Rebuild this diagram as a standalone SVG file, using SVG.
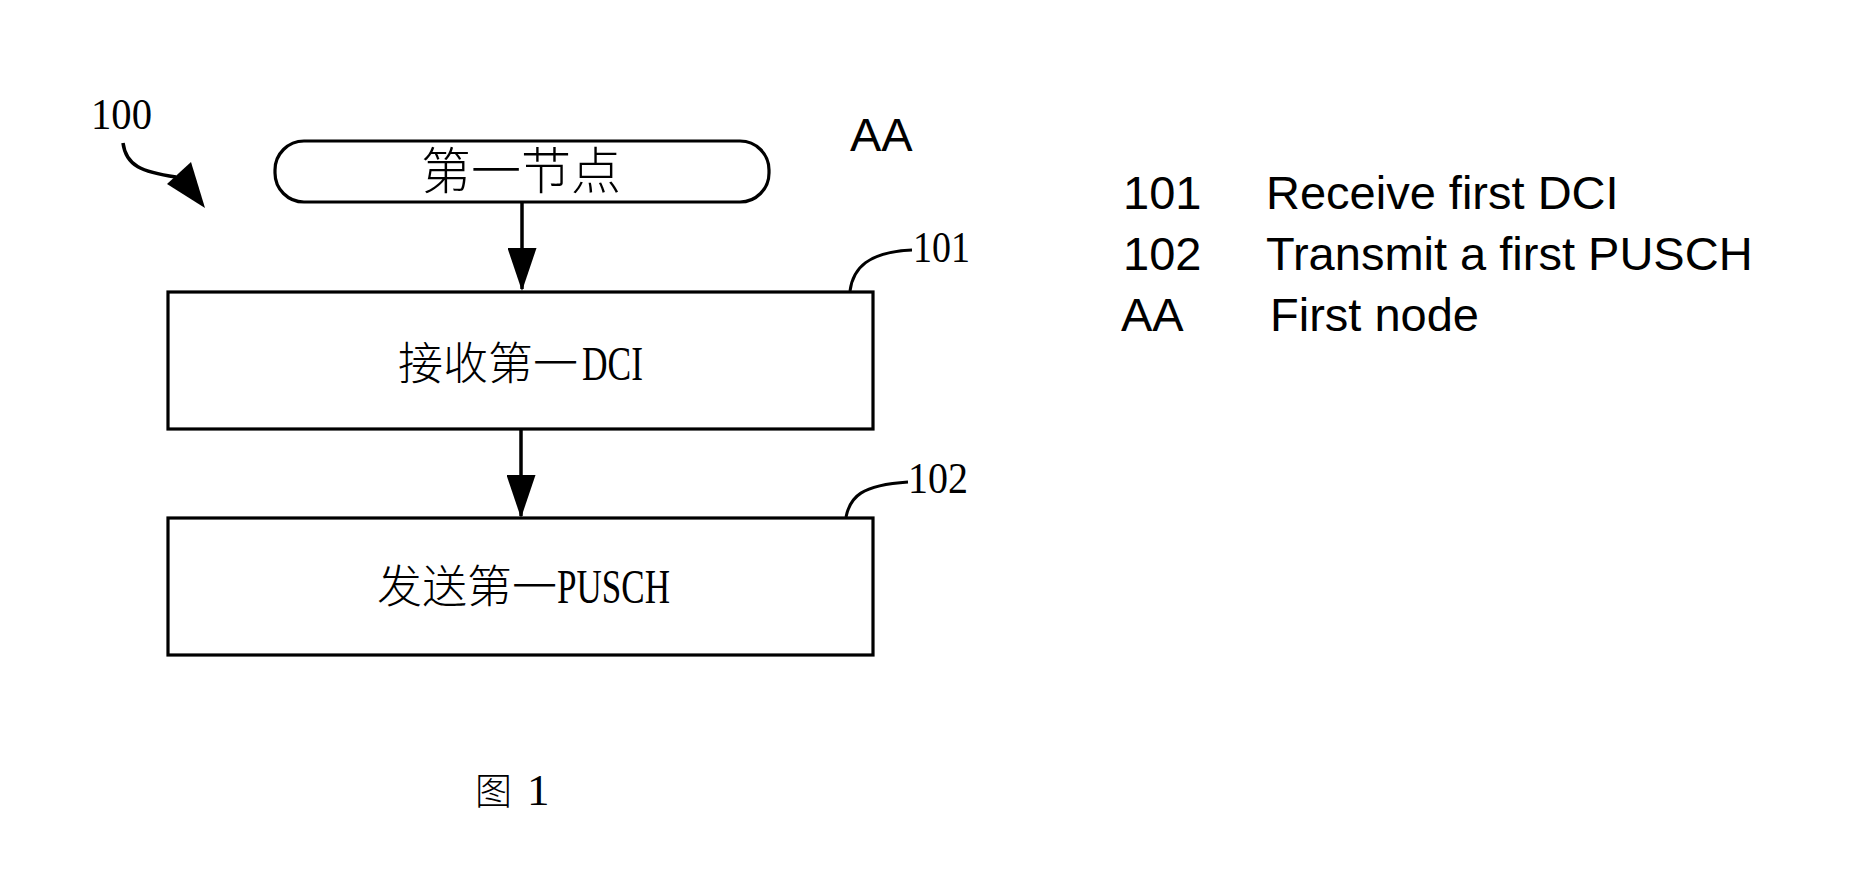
<svg xmlns="http://www.w3.org/2000/svg" width="1858" height="886" viewBox="0 0 1858 886">
<style>
.box{fill:#fff;stroke:#000;stroke-width:3.2}
.ln{fill:none;stroke:#000;stroke-width:3.5}
.lead{fill:none;stroke:#000;stroke-width:3}
.cjk{font-family:"Noto Sans CJK SC","Noto Sans CJK JP",sans-serif;font-weight:300;fill:#000}
.lat{font-family:"Liberation Serif",serif;font-size:49px;font-weight:normal}
.num{font-family:"Liberation Serif",serif;font-size:45px;fill:#000}
.leg{font-family:"Liberation Sans",Arial,sans-serif;font-size:47px;fill:#000}
</style>
<defs>
<marker id="ah" markerUnits="userSpaceOnUse" markerWidth="43" markerHeight="29" refX="41" refY="14.5" orient="auto">
<path d="M0,0 L43,14.5 L0,29 z" fill="#000"/>
</marker>
</defs>
<rect width="1858" height="886" fill="#fff"/>

<g id="label-100">
<text class="num" x="91" y="129" textLength="61" lengthAdjust="spacingAndGlyphs">100</text>
<path class="ln" d="M123,143 C126,166 142,172 176,177" stroke-width="4"/>
<polygon points="167,184 191,162 205,208" fill="#000"/>
</g>

<g id="node-AA">
<rect class="box" x="275" y="141" width="494" height="61" rx="29" ry="29"/>
<text class="cjk" x="421" y="189" font-size="50">第一节点</text>
<text class="leg" x="850" y="151">AA</text>
</g>

<g id="node-101">
<rect class="box" x="168" y="292" width="705" height="137"/>
<text class="cjk" x="398" y="380" font-size="45">接收第一<tspan class="lat" dx="4" textLength="61" lengthAdjust="spacingAndGlyphs">DCI</tspan></text>
<path class="lead" d="M850,291 C853,268 868,252 912,250"/>
<text class="num" x="913" y="262" textLength="57" lengthAdjust="spacingAndGlyphs">101</text>
</g>

<g id="node-102">
<rect class="box" x="168" y="518" width="705" height="137"/>
<text class="cjk" x="377" y="603" font-size="45">发送第一<tspan class="lat" textLength="113" lengthAdjust="spacingAndGlyphs">PUSCH</tspan></text>
<path class="lead" d="M846,517 C850,497 861,485 908,482"/>
<text class="num" x="908" y="493" textLength="60" lengthAdjust="spacingAndGlyphs">102</text>
</g>

<g id="connectors">
<line class="ln" x1="522" y1="202" x2="522" y2="289" marker-end="url(#ah)"/>
<line class="ln" x1="521" y1="429" x2="521" y2="516" marker-end="url(#ah)"/>
</g>

<g id="legend">
<text class="leg" x="1123" y="209">101</text>
<text class="leg" x="1266" y="209">Receive first DCI</text>
<text class="leg" x="1123" y="270">102</text>
<text class="leg" x="1266" y="270">Transmit a first PUSCH</text>
<text class="leg" x="1121" y="331">AA</text>
<text class="leg" x="1270" y="331">First node</text>
</g>

<g id="caption">
<text class="cjk" x="475" y="805" font-size="37">图<tspan class="num" x="527" font-size="38">1</tspan></text>
</g>
</svg>
